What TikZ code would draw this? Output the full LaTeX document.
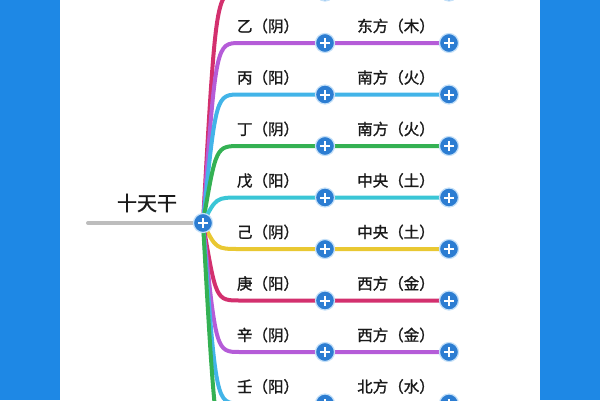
\documentclass[tikz,border=0pt]{standalone}
\usepackage{fontspec}
\newfontfamily\cjk[AutoFakeBold=1.4]{Noto Sans CJK SC}
\usetikzlibrary{backgrounds, calc}

\definecolor{bandblue}{HTML}{1E88E5}
\definecolor{dotblue}{HTML}{2C7DD2}
\definecolor{dotring}{HTML}{C4E0F8}
\definecolor{txt}{HTML}{1A1A1A}
\definecolor{stemgray}{HTML}{BDBDBD}
\definecolor{crim}{HTML}{D3306E}
\definecolor{purp}{HTML}{B55CD8}
\definecolor{sky}{HTML}{42B4E8}
\definecolor{grn}{HTML}{34B153}
\definecolor{cyn}{HTML}{3AC6D6}
\definecolor{yel}{HTML}{E9C832}

\begin{document}
\begin{tikzpicture}[x=1pt, y=-1pt,
	plusdot/.style={circle, fill=dotblue, draw=dotring, line width=1.2pt, minimum size=19pt, inner sep=0pt,
		path picture={\draw[white, line width=2pt]
			([xshift=-5pt]path picture bounding box.center) -- ([xshift=5pt]path picture bounding box.center)
			([yshift=-5pt]path picture bounding box.center) -- ([yshift=5pt]path picture bounding box.center);}},
	branch/.style={line width=4pt, line cap=round},
	stemlabel/.style={font=\cjk\bfseries\fontsize{15.5}{15.5}\selectfont, text=txt, inner sep=0pt},
	]
		%%% Cornice
		\useasboundingbox (0,0) rectangle (600,400);
		
		%%% Nodi
		\node [plusdot] (root) at (203,223) {};
		\node [stemlabel, font=\cjk\bfseries\fontsize{20}{20}\selectfont] (title) at (147,203) {十天干};
		\coordinate (tail) at (88,223);		% inizio della linea grigia
		
		\foreach \stem/\dir/\col [count=\k from 0] in {/ /crim, 乙（阴）/东方（木）/purp, 丙（阳）/南方（火）/sky,
			丁（阴）/南方（火）/grn, 戊（阳）/中央（土）/cyn, 己（阴）/中央（土）/yel, 庚（阳）/西方（金）/crim,
			辛（阴）/西方（金）/purp, 壬（阳）/北方（水）/sky, / /grn}{
			\pgfmathsetmacro\ry{223.25+51.5*(\k-4.5)}
			\node [plusdot] (s\k) at (325,\ry) {};
			\node [plusdot] (e\k) at (449,\ry) {};
			\node [stemlabel] (l\k) at ($(s\k)+(-57,-17)$) {\stem};
			\node [stemlabel] (d\k) at ($(e\k)+(-53,-17)$) {\dir};
			%%% Rami
			\begin{scope}[on background layer]
				\draw[branch, draw=\col] (root.center) .. controls (216,\ry) and (216,\ry) .. (240,\ry) -- (s\k.center) -- (e\k.center);
			\end{scope}
		}
		
		%%% Sfondo
		\begin{scope}[on background layer]
			\draw[line width=4pt, stemgray, line cap=round] (tail) -- (root.center);
		\end{scope}
		\begin{pgfonlayer}{background}
			\fill[bandblue] (0,0) rectangle (60,400);
			\fill[bandblue] (540,0) rectangle (600,400);
		\end{pgfonlayer}
	\end{tikzpicture}
\end{document}
